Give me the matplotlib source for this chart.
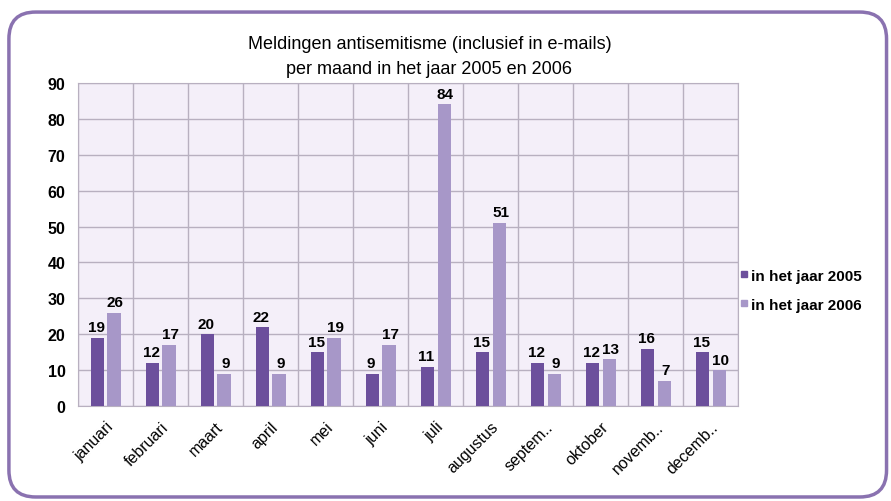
import numpy as np
import matplotlib.pyplot as plt
from matplotlib.patches import FancyBboxPatch
from matplotlib.lines import Line2D

months = ["januari", "februari", "maart", "april", "mei", "juni", "juli",
          "augustus", "septem..", "oktober", "novemb..", "decemb.."]
jaar_2005 = [19, 12, 20, 22, 15, 9, 11, 15, 12, 12, 16, 15]
jaar_2006 = [26, 17, 9, 9, 19, 17, 84, 51, 9, 13, 7, 10]
labels = ["in het jaar 2005", "in het jaar 2006"]

dark = "#6c4f9c"
light = "#a797c8"
fam = ["Liberation Sans", "DejaVu Sans"]

fig = plt.figure(figsize=(8.91, 5.02), dpi=100)
frame = FancyBboxPatch((0.01, 0.008), 0.985, 0.966, boxstyle="round,pad=0,rounding_size=0.03",
                       transform=fig.transFigure, facecolor="none", edgecolor="#8a72b0",
                       linewidth=2.5, mutation_aspect=891 / 502, zorder=5)
fig.patches.append(frame)

ax = fig.add_axes([0.0875, 0.189, 0.741, 0.644])
ax.set_facecolor("#f4eff9")
x = np.arange(len(months))
w = 0.24
ax.bar(x - 0.145, jaar_2005, w, color=dark, zorder=3)
ax.bar(x + 0.155, jaar_2006, w, color=light, zorder=3)
for i in range(len(months)):
    ax.text(x[i] - 0.17, jaar_2005[i] + 1, str(jaar_2005[i]), ha="center", va="bottom",
            fontsize=11, fontweight="bold", family=fam)
    ax.text(x[i] + 0.18, jaar_2006[i] + 1, str(jaar_2006[i]), ha="center", va="bottom",
            fontsize=11, fontweight="bold", family=fam)

ax.set_xlim(-0.5, len(months) - 0.5)
ax.set_ylim(0, 90)
ax.set_yticks(range(0, 91, 10))
ax.set_xticks(x)
ax.set_xticklabels(months, rotation=45, ha="right", rotation_mode="anchor", family=fam, fontsize=11.5)
for lab in ax.get_yticklabels():
    lab.set_family(fam)
    lab.set_fontweight("bold")
    lab.set_fontsize(11.5)
ax.tick_params(length=0, pad=9)
for b in np.arange(-0.5, len(months), 1.0):
    ax.axvline(b, color="#b8b0c0", linewidth=1, zorder=1)
ax.grid(axis="y", color="#b8b0c0", linewidth=1, zorder=1)
for s in ax.spines.values():
    s.set_color("#b8b0c0")

fig.text(0.482, 0.912, "Meldingen antisemitisme (inclusief in e-mails)", ha="center", va="center",
         fontsize=13, family=fam)
fig.text(0.482, 0.862, "per maand in het jaar 2005 en 2006", ha="center", va="center",
         fontsize=13, family=fam)

handles = [Line2D([], [], marker="s", linestyle="", color=dark, markersize=5),
           Line2D([], [], marker="s", linestyle="", color=light, markersize=5)]
fig.legend(handles, labels, loc="center left", bbox_to_anchor=(0.815, 0.42), frameon=False,
           handletextpad=0.1, labelspacing=1.0, handlelength=0.6,
           prop={"family": fam, "weight": "bold", "size": 11})

fig.savefig("out.png", dpi=100)
